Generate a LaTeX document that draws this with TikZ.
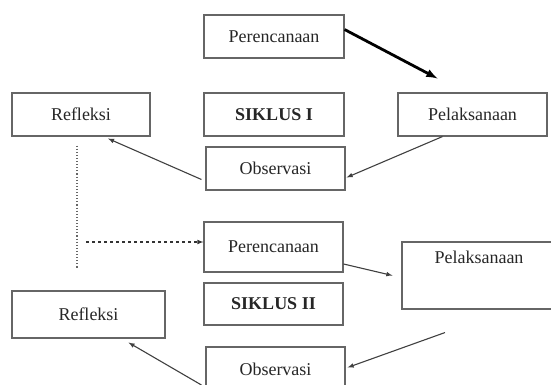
\documentclass[tikz,border=0pt]{standalone}
\usepackage{fontspec}
\setmainfont{Liberation Serif}
\usepackage{tikz}
\tikzset{
  font={\fontsize{18pt}{21}\selectfont},
  boxnode/.style={draw=black!60, line width=1.1pt, text=black!85, inner sep=0pt},
  linkarr/.style={draw=black!75, line width=1.1pt, -latex}}

\begin{document}
\begin{tikzpicture}[x=1pt,y=-1pt]
\useasboundingbox (0,0) rectangle (551,385);
% siklus I
\node [boxnode, minimum width=140pt, minimum height=43pt] (per1) at (274,36.5) {Perencanaan};
\node [boxnode, minimum width=138pt, minimum height=43pt] (ref1) at (81,114.5) {Refleksi};
\node [boxnode, minimum width=140pt, minimum height=43pt] (sik1) at (274,114.5) {\textbf{SIKLUS I}};
\node [boxnode, minimum width=149pt, minimum height=43pt] (pel1) at (472.5,114.5) {Pelaksanaan};
\node [boxnode, minimum width=139pt, minimum height=43pt] (obs1) at (275.5,168.5) {Observasi};
% siklus II
\node [boxnode, minimum width=139pt, minimum height=50pt] (per2) at (273.5,247) {Perencanaan};
\node [boxnode, minimum width=154pt, minimum height=67pt, text height=21pt, text depth=46pt] (pel2) at (479,275.5) {Pelaksanaan};
\node [boxnode, minimum width=139pt, minimum height=42pt] (sik2) at (273.5,304) {\textbf{SIKLUS II}};
\node [boxnode, minimum width=153pt, minimum height=47pt] (ref2) at (88.5,314.5) {Refleksi};
\node [boxnode, minimum width=139pt, minimum height=45pt] (obs2) at (275.5,369.5) {Observasi};
\coordinate (dotEnd) at (77,268);
\coordinate (dashStart) at (86,242);
% arrows siklus I
\draw [draw=black, line width=2.8pt, -latex] ([yshift=7pt]per1.east) -- ([xshift=-35pt,yshift=14pt]pel1.north);
\draw [linkarr] ([xshift=-30pt]pel1.south) -- ([xshift=1pt,yshift=-9pt]obs1.east);
\draw [linkarr] ([xshift=-4pt,yshift=-11pt]obs1.west) -- ([xshift=27pt,yshift=-2pt]ref1.south);
% link to siklus II
\draw [draw=black!60, line width=1.1pt, dotted] ([xshift=-4pt,yshift=-9pt]ref1.south) -- (dotEnd);
\draw [draw=black!80, line width=1.1pt, dashed, -latex] (dashStart) -- ([yshift=5pt]per2.west);
% arrows siklus II
\draw [linkarr] ([yshift=-17pt]per2.east) -- ([xshift=-9pt]pel2.west);
\draw [linkarr] ([xshift=-34pt,yshift=-23pt]pel2.south) -- ([xshift=2pt,yshift=2pt]obs2.east);
\draw [linkarr] ([xshift=-4pt,yshift=-15.5pt]obs2.west) -- ([xshift=40pt,yshift=-4pt]ref2.south);
\end{tikzpicture}
\end{document}
